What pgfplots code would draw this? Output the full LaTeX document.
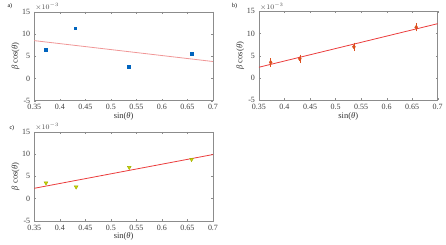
\documentclass[border=0pt]{standalone}
\usepackage{fontspec}
\setmainfont{Liberation Serif}
\usepackage{pgfplots}
\pgfplotsset{compat=1.18}
\definecolor{mblue}{RGB}{0,100,190}
\definecolor{morange}{RGB}{220,80,30}
\definecolor{myellow}{RGB}{200,215,0}
\definecolor{lpink}{RGB}{240,150,150}
\definecolor{lred}{RGB}{235,60,60}
\definecolor{framegray}{RGB}{140,140,140}
\pgfplotsset{
  panel/.style={
    scale only axis, width=179pt, height=89pt,
    xmin=0.35, xmax=0.7, ymin=-5, ymax=15,
    xtick={0.35,0.4,0.45,0.5,0.55,0.6,0.65,0.7},
    xticklabels={0.35,0.4,0.45,0.5,0.55,0.6,0.65,0.7},
    ytick={-5,0,5,10,15},
    tick align=inside, tick pos=both,
    major tick length=2pt,
    axis line style={framegray},
    tick style={framegray},
    tick label style={font=\fontsize{8}{9}\selectfont, text=black!75},
    xticklabel style={yshift=-0.5pt},
    yticklabel style={xshift=-0.5pt},
    label style={font=\fontsize{8.5}{10}\selectfont, text=black!80},
    /pgf/number format/assume math mode=true,
    xlabel={sin(\textit{θ})},
    ylabel={\textit{β} cos(\textit{θ})},
    xlabel style={yshift=4pt},
    ylabel style={yshift=-4pt},
    clip=false,
  }
}
\begin{document}
\begin{tikzpicture}
\path (0pt,0pt) rectangle (446pt,-243pt);
% panel a
\begin{axis}[panel, at={(34.3pt,-10.7pt)}, anchor=north west]
\addplot[lpink, line width=0.8pt] coordinates {(0.35,8.5) (0.7,3.8)};
\addplot[only marks, mark=square*, mark size=1.4pt, mblue] coordinates {
(0.373,6.5) (0.430,11.3) (0.535,2.6) (0.658,5.5)};
\node[anchor=south west, font=\fontsize{7}{8}\selectfont, text=black!70, inner sep=1pt] at (rel axis cs:0,1) {$\times10^{-3}$};
\end{axis}
\node[font=\fontsize{6}{7}\selectfont, anchor=west] at (4pt,-5pt) {a)};
% panel b
\begin{axis}[panel, at={(259.3pt,-10.2pt)}, anchor=north west]
\addplot[lred, line width=0.8pt] coordinates {(0.35,2.4) (0.7,12.2)};
\addplot[only marks, mark=diamond*, mark size=2pt, morange,
  error bars/.cd, y dir=both, y explicit, error bar style={morange, line width=0.6pt}, error mark options={draw=none}]
  coordinates {
(0.373,3.5) +- (0,0.5)
(0.430,4.3) +- (0,0.5)
(0.536,7.0) +- (0,0.5)
(0.658,11.4) +- (0,0.5)};
\node[anchor=south west, font=\fontsize{7}{8}\selectfont, text=black!70, inner sep=1pt] at (rel axis cs:0,1) {$\times10^{-3}$};
\end{axis}
\node[font=\fontsize{6}{7}\selectfont, anchor=west] at (229pt,-5pt) {b)};
% panel c
\begin{axis}[panel, at={(34.3pt,-131pt)}, anchor=north west]
\addplot[lred, line width=0.8pt] coordinates {(0.35,2.3) (0.7,9.9)};
\addplot[only marks, mark=triangle*, mark options={rotate=180, fill=myellow, draw=myellow!80!black}, mark size=2.2pt] coordinates {
(0.373,3.5) (0.432,2.6) (0.536,7.0) (0.658,8.8)};
\node[anchor=south west, font=\fontsize{7}{8}\selectfont, text=black!70, inner sep=1pt] at (rel axis cs:0,1) {$\times10^{-3}$};
\end{axis}
\node[font=\fontsize{6}{7}\selectfont, anchor=west] at (6pt,-127pt) {c)};
\end{tikzpicture}
\end{document}
